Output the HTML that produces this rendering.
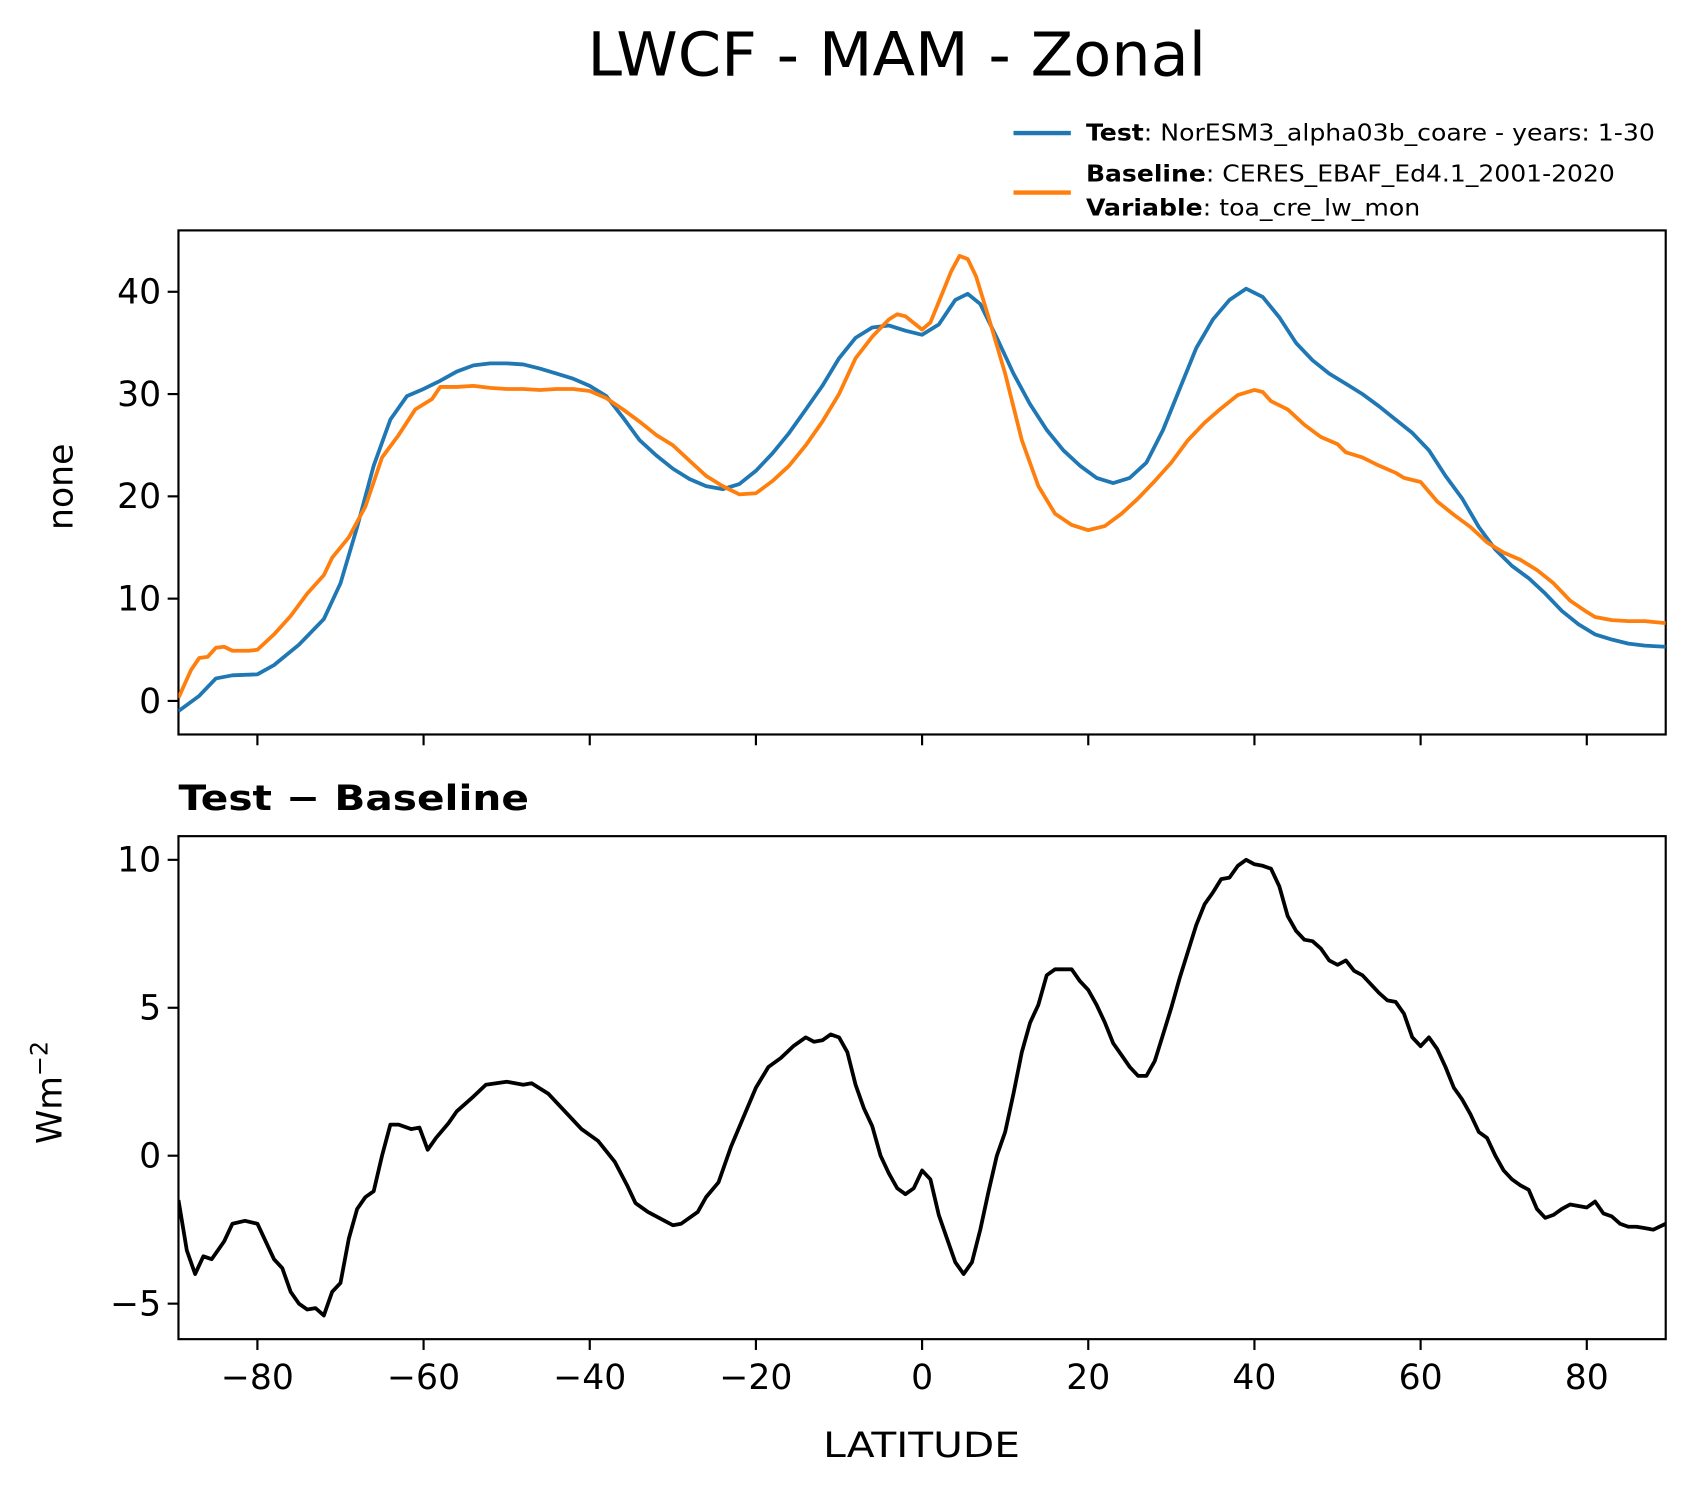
<!DOCTYPE html>
<html><head><meta charset="utf-8"><style>
html,body{margin:0;padding:0;background:#fff;}
svg{display:block;font-family:"DejaVu Sans","Liberation Sans",sans-serif;}
</style></head><body>
<svg id="fig" width="1696" height="1496" viewBox="0 0 1568 1383" preserveAspectRatio="none" xmlns="http://www.w3.org/2000/svg">
<rect width="1568" height="1383" fill="#fff"/>
<text x="829" y="70" font-size="56" text-anchor="middle" textLength="572" lengthAdjust="spacingAndGlyphs">LWCF - MAM - Zonal</text>
<g>
<line x1="937" y1="123" x2="990" y2="123" stroke="#1f77b4" stroke-width="4"/>
<text x="1004" y="130" font-size="21" textLength="526" lengthAdjust="spacingAndGlyphs"><tspan font-weight="bold">Test</tspan>: NorESM3_alpha03b_coare - years: 1-30</text>
<line x1="937" y1="178" x2="990" y2="178" stroke="#ff7f0e" stroke-width="4"/>
<text x="1004" y="168" font-size="21" textLength="489" lengthAdjust="spacingAndGlyphs"><tspan font-weight="bold">Baseline</tspan>: CERES_EBAF_Ed4.1_2001-2020</text>
<text x="1004" y="199" font-size="21" textLength="309" lengthAdjust="spacingAndGlyphs"><tspan font-weight="bold">Variable</tspan>: toa_cre_lw_mon</text>
</g>
<g id="topAx"></g>
<g id="botAx"></g>
<text transform="translate(67,450) rotate(-90)" font-size="32" text-anchor="middle">none</text>
<text x="165" y="749" font-size="32" font-weight="bold" textLength="324" lengthAdjust="spacingAndGlyphs">Test − Baseline</text>
<text transform="translate(57,1010) rotate(-90)" font-size="32" text-anchor="middle">Wm<tspan dy="-13" font-size="22">−2</tspan></text>
<text x="852" y="1347" font-size="32" text-anchor="middle" textLength="182" lengthAdjust="spacingAndGlyphs">LATITUDE</text>
</svg>
<script>
const testLat=[-89.5,-87,-85,-83,-80,-78,-75,-72,-70,-68,-66,-64,-62,-60,-58,-56,-54,-52,-50,-48,-46,-44,-42,-40,-38,-36,-34,-32,-30,-28,-26,-24,-22,-20,-18,-16,-14,-12,-10,-8,-6,-4,-2,0,2,4,5.5,7,9,11,13,15,17,19,21,23,25,27,29,31,33,35,37,39,41,43,45,47,49,51,53,55,57,59,61,63,65,67,69,71,73,75,77,79,81,83,85,87,89.5];
const testVal=[-1.0,0.5,2.2,2.5,2.6,3.5,5.5,8,11.5,17,23,27.5,29.8,30.5,31.3,32.2,32.8,33.0,33.0,32.9,32.5,32.0,31.5,30.8,29.8,27.7,25.5,24.0,22.7,21.7,21.0,20.7,21.2,22.5,24.2,26.2,28.5,30.8,33.5,35.5,36.5,36.7,36.2,35.8,36.8,39.2,39.8,38.8,35.5,32,29,26.5,24.5,23,21.8,21.3,21.8,23.3,26.5,30.5,34.5,37.3,39.2,40.3,39.5,37.5,35.0,33.3,32.0,31.0,30.0,28.8,27.5,26.2,24.5,22,19.8,17,14.8,13.2,12.0,10.5,8.8,7.5,6.5,6.0,5.6,5.4,5.3];
const baseLat=[-89.5,-88,-87,-86,-85,-84,-83,-81,-80,-78,-76,-74,-72,-71,-69,-67,-65,-63,-61,-59,-58,-56,-54,-52,-50,-48,-46,-44,-42,-40,-38,-36,-34,-32,-30,-28,-26,-24,-22,-20,-18,-16,-14,-12,-10,-8,-6,-4,-3,-2,0,1,2,3.5,4.5,5.5,6.5,8,10,12,14,16,18,20,22,24,26,28,30,32,34,36,38,40,41,42,44,46,48,50,51,53,55,57,58,60,62,64,66,68,70,72,74,76,78,80,81,83,85,87,89.5];
const baseVal=[0.3,3,4.2,4.3,5.2,5.3,4.9,4.9,5.0,6.5,8.3,10.5,12.3,14,16,19,23.8,26,28.5,29.5,30.7,30.7,30.8,30.6,30.5,30.5,30.4,30.5,30.5,30.3,29.6,28.5,27.3,26,25,23.5,22,21,20.2,20.3,21.5,23,25,27.3,30,33.5,35.6,37.3,37.8,37.6,36.3,37,39,42,43.5,43.2,41.5,37.5,32,25.5,21,18.3,17.2,16.7,17.1,18.3,19.8,21.5,23.3,25.5,27.2,28.6,29.9,30.4,30.2,29.3,28.5,27,25.8,25.1,24.3,23.8,23,22.3,21.8,21.4,19.5,18.2,17,15.5,14.5,13.8,12.8,11.5,9.8,8.7,8.2,7.9,7.8,7.8,7.6];
const diffLat=[-89.5,-88.5,-87.5,-86.5,-85.5,-84,-83,-81.5,-80,-78,-77,-76,-75,-74,-73,-72,-71,-70,-69,-68,-67,-66,-65,-64,-63,-61.5,-60.5,-59.5,-58.5,-57,-56,-54,-52.5,-50,-48,-47,-45,-43,-41,-39,-37,-35.5,-34.5,-33,-31,-30,-29,-27,-26,-24.5,-23,-21.5,-20,-18.5,-17,-15.5,-14,-13,-12,-11,-10,-9,-8,-7,-6,-5,-4,-3,-2,-1,0,1,2,3,4,5,6,7,8,9,10,11,12,13,14,15,16,17,18,19,20,21,22,23,24,25,26,27,28,29,30,31,32,33,34,35,36,37,38,39,40,41,42,43,44,45,46,47,48,49,50,51,52,53,54,55,56,57,58,59,60,61,62,63,64,65,66,67,68,69,70,71,72,73,74,75,76,77,78,79,80,81,82,83,84,85,86,87,88,89.5];
const diffVal=[-1.5,-3.2,-4.0,-3.4,-3.5,-2.9,-2.3,-2.2,-2.3,-3.5,-3.8,-4.6,-5.0,-5.2,-5.15,-5.4,-4.6,-4.3,-2.8,-1.8,-1.4,-1.2,0,1.05,1.05,0.9,0.95,0.2,0.6,1.1,1.5,2.0,2.4,2.5,2.4,2.45,2.1,1.5,0.9,0.5,-0.2,-1.0,-1.6,-1.9,-2.2,-2.35,-2.3,-1.9,-1.4,-0.9,0.3,1.3,2.3,3.0,3.3,3.7,4.0,3.85,3.9,4.1,4.0,3.5,2.4,1.6,1.0,0,-0.6,-1.1,-1.3,-1.1,-0.5,-0.8,-2.0,-2.8,-3.6,-4.0,-3.6,-2.5,-1.2,0,0.8,2.1,3.5,4.5,5.1,6.1,6.3,6.3,6.3,5.9,5.6,5.1,4.5,3.8,3.4,3.0,2.7,2.7,3.2,4.1,5.0,6.0,6.9,7.8,8.5,8.9,9.35,9.4,9.8,10.0,9.85,9.8,9.7,9.1,8.1,7.6,7.3,7.25,7.0,6.6,6.45,6.6,6.25,6.1,5.8,5.5,5.25,5.2,4.8,4.0,3.7,4.0,3.6,3.0,2.3,1.9,1.4,0.8,0.6,0,-0.5,-0.8,-1.0,-1.15,-1.8,-2.1,-2.0,-1.8,-1.65,-1.7,-1.75,-1.55,-1.95,-2.05,-2.3,-2.4,-2.4,-2.45,-2.5,-2.3];
const xTicks=[-80,-60,-40,-20,0,20,40,60,80];
const xTickLabels=["−80","−60","−40","−20","0","20","40","60","80"];
const topYTicks=[0,10,20,30,40];
const botYTicks=[-5,0,5,10];
const botYTickLabels=["−5","0","5","10"];

const NS="http://www.w3.org/2000/svg";
const L=165,R=1540;
const xs=v=>L+(v+89.5)/179*(R-L);
const topT=213,topB=679,topMin=-3.28,topMax=46.0;
const ysT=v=>topB-(v-topMin)/(topMax-topMin)*(topB-topT);
const botT=773,botB=1238,botMin=-6.2,botMax=10.8;
const ysB=v=>botB-(v-botMin)/(botMax-botMin)*(botB-botT);
function mk(tag,attrs,parent){const e=document.createElementNS(NS,tag);for(const k in attrs)e.setAttribute(k,attrs[k]);parent.appendChild(e);return e;}
function drawLine(lat,val,ys,color,parent,name){
  const p=mk('polyline',{points:lat.map((a,i)=>xs(a).toFixed(1)+','+ys(val[i]).toFixed(1)).join(' '),fill:'none',stroke:color,'stroke-width':3.5,'stroke-linejoin':'round'},parent);
  
  
}
function axes(g,T,B,ys,yt,ytl,showX,prefix){
  const cp=mk('clipPath',{id:prefix+'clip'},g);mk('rect',{x:L,y:T,width:R-L,height:B-T},cp);
  const frame=mk('rect',{x:L,y:T,width:R-L,height:B-T,fill:'none',stroke:'#000','stroke-width':2},g);
  
  
  xTicks.forEach((t,i)=>{
    const tk=mk('line',{x1:xs(t),x2:xs(t),y1:B,y2:B+10,stroke:'#000','stroke-width':2},g);
    
    
    if(showX){const tx=mk('text',{x:xs(t),y:B+46,'font-size':32,'text-anchor':'middle'},g);tx.textContent=xTickLabels[i];
      
      }
  });
  yt.forEach((t,i)=>{
    const tk=mk('line',{x1:L-10,x2:L,y1:ys(t),y2:ys(t),stroke:'#000','stroke-width':2},g);
    
    
    const tx=mk('text',{x:L-16,y:ys(t)+11,'font-size':32,'text-anchor':'end'},g);tx.textContent=ytl[i];
    
    
  });
  return mk('g',{'clip-path':'url(#'+prefix+'clip)'},g);
}
const topG=document.getElementById('topAx'),botG=document.getElementById('botAx');
const tp=axes(topG,topT,topB,ysT,topYTicks,topYTicks.map(String),false,'top');
drawLine(testLat,testVal,ysT,'#1f77b4',tp,'test-line');
drawLine(baseLat,baseVal,ysT,'#ff7f0e',tp,'baseline-line');
const bp=axes(botG,botT,botB,ysB,botYTicks,botYTickLabels,true,'bottom');
drawLine(diffLat,diffVal,ysB,'#000',bp,'difference-line');
</script>
</body></html>
